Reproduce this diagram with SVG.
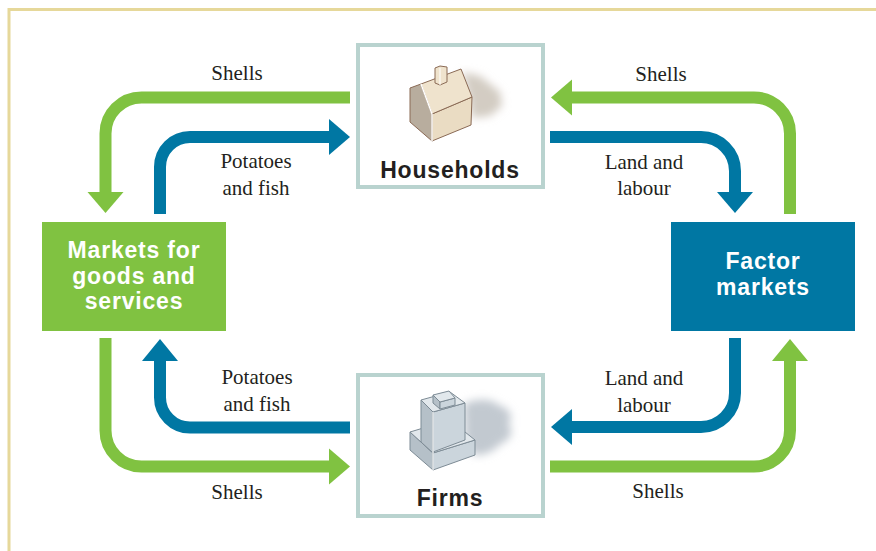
<svg xmlns="http://www.w3.org/2000/svg" width="876" height="551" viewBox="0 0 876 551">
<style>
.g{fill:none;stroke:#80c241;stroke-width:12}
.b{fill:none;stroke:#0077a3;stroke-width:12}
.gh{fill:#80c241}
.bh{fill:#0077a3}
.lbl{font-family:"Liberation Serif","DejaVu Serif",serif;font-size:21px;fill:#231f20;text-anchor:middle}
.nl{font-family:"Liberation Sans",Arial,sans-serif;font-size:23px;font-weight:bold;letter-spacing:0.8px;text-anchor:middle}
.box{fill:#fff;stroke:#b9d3cf;stroke-width:4}
.ho{stroke:#8a6a55;stroke-width:1;stroke-linejoin:round}
.fo{stroke:#7d8b95;stroke-width:1;stroke-linejoin:round}
</style>
<defs>
  <filter id="blur" x="-30%" y="-30%" width="160%" height="160%">
    <feGaussianBlur stdDeviation="4"/>
  </filter>
</defs>
<rect width="876" height="551" fill="#fff"/>
<path d="M9 551 V9.5 H876" fill="none" stroke="#e6d89a" stroke-width="3"/>

<g id="connectors">
  <path class="g" d="M350 97.5 H141.5 A36 36 0 0 0 105.5 133.5 V193"/>
  <polygon class="gh" points="87.5,192 123.5,192 105.5,213"/>
  <path class="b" d="M160 214 V167 A30 30 0 0 1 190 137 H330"/>
  <polygon class="bh" points="329,119 329,155 350,137"/>
  <path class="g" d="M790 214 V133.5 A36 36 0 0 0 754 97.5 H571"/>
  <polygon class="gh" points="572,79.5 572,115.5 551,97.5"/>
  <path class="b" d="M550 137 H701 A34 34 0 0 1 735 171 V193"/>
  <polygon class="bh" points="717,192 753,192 735,213"/>
  <path class="b" d="M735 338 V393 A34 34 0 0 1 701 427 H571"/>
  <polygon class="bh" points="572,409 572,445 551,427"/>
  <path class="g" d="M550 466.5 H754 A36 36 0 0 0 790 430.5 V360"/>
  <polygon class="gh" points="772,361 808,361 790,339"/>
  <path class="g" d="M105.5 338 V430.5 A36 36 0 0 0 141.5 466.5 H330"/>
  <polygon class="gh" points="329,448.5 329,484.5 350,466.5"/>
  <path class="b" d="M350 427.5 H190 A30 30 0 0 1 160 397.5 V360"/>
  <polygon class="bh" points="142,361 178,361 160,339"/>
  <text class="lbl" x="237" y="80">Shells</text>
  <text class="lbl" x="256" y="168">Potatoes</text>
  <text class="lbl" x="256" y="195">and fish</text>
  <text class="lbl" x="661" y="81">Shells</text>
  <text class="lbl" x="644" y="169">Land and</text>
  <text class="lbl" x="644" y="195">labour</text>
  <text class="lbl" x="257" y="384">Potatoes</text>
  <text class="lbl" x="257" y="411">and fish</text>
  <text class="lbl" x="644" y="385">Land and</text>
  <text class="lbl" x="644" y="412">labour</text>
  <text class="lbl" x="237" y="499">Shells</text>
  <text class="lbl" x="658" y="498">Shells</text>
</g>

<g id="households">
  <rect class="box" x="358" y="45" width="185" height="142"/>
  <polygon points="462,72 480,76 500,92 502,106 490,116 472,118 468,96" fill="#d3ccc3" filter="url(#blur)"/>
  <polygon class="ho" points="410,88 421,84 432,114 432,141 410,122" fill="#b8ad9e"/>
  <polygon class="ho" points="432,114 472,97 471,125 432,141" fill="#eadcc3"/>
  <polygon class="ho" points="421,84 461,69 472,97 432,114" fill="#efe3cd"/>
  <line x1="421" y1="84" x2="432" y2="114" stroke="#fff" stroke-width="1.5"/>
  <line x1="432" y1="114" x2="432" y2="141" stroke="#fff" stroke-width="1.5"/>
  <polygon class="ho" points="435,68 440,66 447,67 447,82 440,85 435,83" fill="#efe3cd"/>
  <line x1="440" y1="68" x2="440" y2="85" stroke="#fff" stroke-width="1"/>
  <text class="nl" x="450" y="178" fill="#231f20">Households</text>
</g>

<g id="firms">
  <rect class="box" x="358" y="375" width="185" height="141"/>
  <path d="M464 404 C476 398 492 398 500 406 C510 408 514 418 508 424 C516 432 508 442 500 444 C494 452 482 456 474 455 L465 440 Z" fill="#c2c9d0" filter="url(#blur)"/>
  <polygon class="fo" points="410,432 433,453 433,470 410,450" fill="#b5c0c8"/>
  <polygon class="fo" points="433,453 475,440 475,455 433,470" fill="#cbd5dc"/>
  <polygon class="fo" points="410,432 433,453 475,440 450,420" fill="#e2e8ec"/>
  <polygon class="fo" points="421,400 433,412 433,453 421,442" fill="#b5c0c8"/>
  <polygon class="fo" points="433,412 465,403 465,440 433,452" fill="#cbd5dc"/>
  <polygon class="fo" points="421,400 433,412 465,403 450,392" fill="#e2e8ec"/>
  <polygon class="fo" points="433,395 440,402 440,409 433,403" fill="#b5c0c8"/>
  <polygon class="fo" points="440,402 455,398 455,405 440,409" fill="#cbd5dc"/>
  <polygon class="fo" points="433,395 440,402 455,398 449,391" fill="#e2e8ec"/>
  <polyline points="433,412 433,452 433,470" fill="none" stroke="#fff" stroke-width="1.2"/>
  <text class="nl" x="450" y="506" fill="#231f20">Firms</text>
</g>

<g id="goods-markets">
  <rect x="42" y="222" width="184" height="109" fill="#80c241"/>
  <text class="nl" x="134" y="258" fill="#fff">Markets for</text>
  <text class="nl" x="134" y="284" fill="#fff">goods and</text>
  <text class="nl" x="134" y="309" fill="#fff">services</text>
</g>

<g id="factor-markets">
  <rect x="671" y="222" width="184" height="109" fill="#0077a3"/>
  <text class="nl" x="763" y="269" fill="#fff">Factor</text>
  <text class="nl" x="763" y="295" fill="#fff">markets</text>
</g>
</svg>
